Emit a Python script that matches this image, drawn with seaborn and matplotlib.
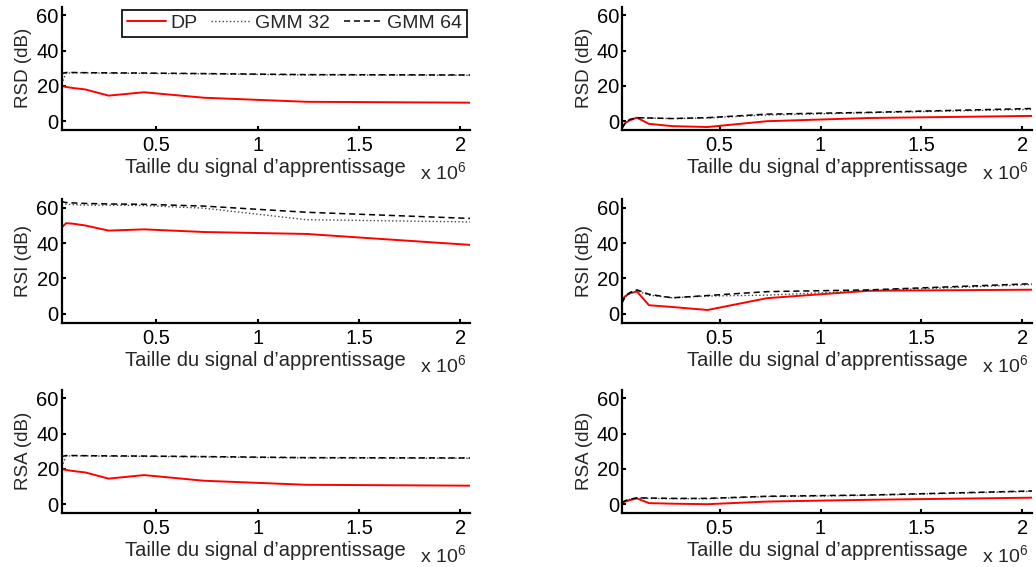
import matplotlib
matplotlib.use("Agg")
import matplotlib.pyplot as plt
import seaborn as sns
import numpy as np

sns.set_theme(style="white")
plt.rcParams.update({
    'font.size': 14.5,
    'axes.labelsize': 14.5,
    'xtick.labelsize': 14.5,
    'ytick.labelsize': 14.5,
    'legend.fontsize': 14,
    'mathtext.default': 'regular',
})
plt.rcParams['font.family'] = ['Liberation Sans', 'DejaVu Sans']

# Training signal size (samples)
x_left = [32768, 55000, 90000, 150000, 265000, 440000, 735000, 1240000, 2048000]
x_right = [16384, 32768, 55000, 90000, 150000, 265000, 440000, 735000, 1240000, 2048000]

# Left column
rsd_left_dp = [20.0, 19.4, 18.8, 18.0, 14.5, 16.4, 13.3, 11.0, 10.5]
rsd_left_gmm32 = [21.0, 27.3, 27.4, 27.4, 27.2, 27.1, 26.8, 26.2, 26.0]
rsd_left_gmm64 = [27.0, 27.6, 27.6, 27.5, 27.4, 27.3, 27.0, 26.4, 26.2]

rsi_left_dp = [48.7, 51.3, 51.0, 50.0, 47.1, 47.8, 46.3, 45.2, 39.0]
rsi_left_gmm32 = [62.0, 62.0, 61.8, 61.6, 61.5, 61.3, 59.8, 53.3, 52.0]
rsi_left_gmm64 = [63.5, 63.0, 62.8, 62.5, 62.2, 62.0, 61.0, 57.5, 54.0]

rsa_left_dp = [20.0, 19.4, 18.8, 18.0, 14.5, 16.5, 13.3, 11.0, 10.5]
rsa_left_gmm32 = [21.0, 27.3, 27.4, 27.4, 27.2, 27.1, 26.8, 26.2, 26.0]
rsa_left_gmm64 = [27.0, 27.6, 27.6, 27.5, 27.4, 27.3, 27.0, 26.4, 26.2]

# Right column
rsd_right_dp = [-3.5, -1.0, 0.5, 2.0, -1.5, -2.8, -3.3, 0.0, 1.8, 3.0]
rsd_right_gmm32 = [-4.0, -1.0, 1.0, 2.0, 1.8, 1.5, 1.8, 3.5, 4.8, 6.7]
rsd_right_gmm64 = [-4.0, -1.0, 1.0, 2.0, 1.8, 1.5, 2.0, 4.0, 5.0, 7.2]

rsi_right_dp = [7.7, 10.0, 11.5, 12.6, 4.8, 3.8, 2.1, 8.8, 13.0, 13.6]
rsi_right_gmm32 = [6.0, 9.5, 11.5, 13.0, 10.5, 9.0, 10.0, 10.5, 13.0, 16.5]
rsi_right_gmm64 = [6.0, 10.0, 12.0, 13.5, 11.0, 9.0, 10.3, 12.5, 13.5, 17.0]

rsa_right_dp = [1.0, 1.5, 2.3, 3.3, 0.6, 0.3, 0.0, 1.5, 2.5, 3.7]
rsa_right_gmm32 = [1.0, 2.0, 2.8, 3.5, 3.3, 3.1, 3.1, 4.3, 5.0, 7.3]
rsa_right_gmm64 = [1.0, 2.0, 2.8, 3.6, 3.5, 3.3, 3.3, 4.5, 5.2, 7.5]

row_labels = ['RSD (dB)', 'RSI (dB)', 'RSA (dB)']
series_names = ['DP', 'GMM 32', 'GMM 64']
y_ticks = [0, 20, 40, 60]
x_ticks = [500000, 1000000, 1500000, 2000000]
x_tick_labels = ['0.5', '1', '1.5', '2']

left_data = [(rsd_left_dp, rsd_left_gmm32, rsd_left_gmm64),
             (rsi_left_dp, rsi_left_gmm32, rsi_left_gmm64),
             (rsa_left_dp, rsa_left_gmm32, rsa_left_gmm64)]
right_data = [(rsd_right_dp, rsd_right_gmm32, rsd_right_gmm64),
              (rsi_right_dp, rsi_right_gmm32, rsi_right_gmm64),
              (rsa_right_dp, rsa_right_gmm32, rsa_right_gmm64)]

styles = [dict(color='#ff0000', linestyle='-', linewidth=1.4),
          dict(color='#444444', linestyle=':', linewidth=1.0),
          dict(color='black', linestyle=(0, (4, 2.5)), linewidth=1.1)]

fig = plt.figure(figsize=(10.36, 5.67), dpi=100)

row_bottoms = [0.7707, 0.4312, 0.0952]
ax_h = 0.2178
cols = [(0.0594, 0.3943, x_left, left_data, (32768, 2048000)),
        (0.6004, 0.3958, x_right, right_data, (16384, 2048000))]

for c, (left, width, xs, data, xlim) in enumerate(cols):
    for r in range(3):
        ax = fig.add_axes([left, row_bottoms[r], width, ax_h])
        for s in range(3):
            kw = dict(styles[s])
            if c == 0 and r == 0:
                kw['label'] = series_names[s]
            sns.lineplot(x=xs, y=data[r][s], ax=ax, errorbar=None, **kw)
        ax.set_xlim(*xlim)
        ax.set_ylim(-5, 65)
        ax.set_yticks(y_ticks)
        ax.set_xticks(x_ticks)
        ax.set_xticklabels(x_tick_labels)
        for side in ['top', 'right']:
            ax.spines[side].set_visible(False)
        for side in ['left', 'bottom']:
            ax.spines[side].set_linewidth(1.6)
            ax.spines[side].set_color('black')
        ax.tick_params(direction='in', length=3, width=1.5, colors='black',
                       bottom=True, left=True)
        ax.tick_params(axis='x', pad=4.5)
        ax.tick_params(axis='y', pad=2)
        ax.set_xlabel("Taille du signal d\u2019apprentissage", labelpad=2)
        ax.set_ylabel(row_labels[r], fontsize=13.5, labelpad=3)
        ax.text(0.99, -0.40, r'x 10$^{6}$', transform=ax.transAxes,
                ha='right', va='baseline', fontsize=14)
        if c == 0 and r == 0:
            leg = ax.legend(loc='upper right', bbox_to_anchor=(0.993, 0.975),
                            borderaxespad=0, ncol=3, frameon=True, fancybox=False,
                            framealpha=1, edgecolor='black', handlelength=2.0,
                            handletextpad=0.25, columnspacing=0.7, borderpad=0.25)
            leg.get_frame().set_linewidth(1.2)
        else:
            if ax.get_legend() is not None:
                ax.get_legend().remove()

fig.savefig('out.png', dpi=100)
